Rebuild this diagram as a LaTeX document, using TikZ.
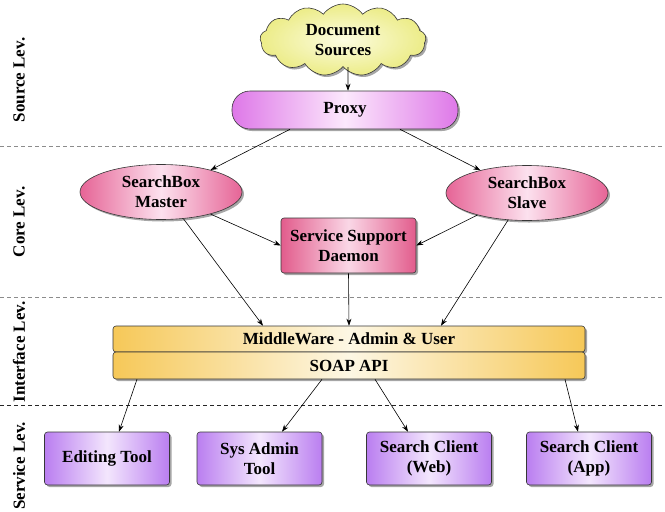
\documentclass[tikz,border=0pt]{standalone}
\usepackage{fontspec}
\setmainfont{Liberation Serif}
\usetikzlibrary{shapes.geometric,shapes.symbols,shadows,arrows.meta,calc}
\definecolor{bordc}{RGB}{55,55,55}
\definecolor{cloudout}{RGB}{236,236,135}
\definecolor{cloudin}{RGB}{252,252,225}
\definecolor{proxyedge}{RGB}{222,120,232}
\definecolor{proxymid}{RGB}{252,232,252}
\definecolor{pinkedge}{RGB}{230,100,150}
\definecolor{pinkmid}{RGB}{252,225,238}
\definecolor{daemonedge}{RGB}{226,92,140}
\definecolor{daemonmid}{RGB}{250,215,230}
\definecolor{baredge}{RGB}{246,200,88}
\definecolor{barmid}{RGB}{253,247,228}
\definecolor{purpedge}{RGB}{186,126,240}
\definecolor{purpmid}{RGB}{243,230,253}
\definecolor{dashgray}{RGB}{140,140,140}
\tikzset{
  txt/.style={font=\fontsize{17}{20}\selectfont\bfseries, align=center, text=black},
  shad/.style={drop shadow={shadow xshift=2pt,shadow yshift=-2pt,opacity=0.35,fill=black}},
  cloudbox/.style={cloud, cloud puffs=13, cloud puff arc=110, aspect=2.4, draw=bordc, line width=0.6pt,
     inner color=cloudin, outer color=cloudout, minimum width=166pt, minimum height=72pt, inner sep=0pt, shad, txt},
  proxybox/.style={rectangle, rounded corners=18pt, draw=bordc, line width=0.6pt,
     left color=proxyedge, right color=proxyedge, middle color=proxymid,
     minimum width=226pt, minimum height=38pt, inner sep=0pt, shad, txt},
  ellbox/.style={ellipse, draw=bordc, line width=0.6pt,
     left color=pinkedge, right color=pinkedge, middle color=pinkmid,
     minimum width=162pt, minimum height=55pt, inner sep=0pt, shad, txt},
  daemonbox/.style={rectangle, rounded corners=3pt, draw=bordc, line width=0.6pt,
     left color=daemonedge, right color=daemonedge, middle color=daemonmid,
     minimum width=135pt, minimum height=55pt, inner sep=0pt, shad, txt},
  barbox/.style={rectangle, rounded corners=3pt, draw=bordc, line width=0.6pt,
     left color=baredge, right color=baredge, middle color=barmid,
     minimum width=472pt, inner sep=0pt, shad, txt},
  toolbox/.style={rectangle, rounded corners=3pt, draw=bordc, line width=0.6pt,
     left color=purpedge, right color=purpedge, middle color=purpmid,
     minimum width=125pt, minimum height=53pt, inner sep=0pt, shad, txt},
  conn/.style={-{Stealth[length=7pt,width=5pt]}, line width=0.6pt, black},
  levline/.style={dashgray, dash pattern=on 4pt off 3pt, line width=0.7pt},
  levline2/.style={black!85, dash pattern=on 4pt off 3pt, line width=0.8pt},
  levlabel/.style={rotate=90, font=\fontsize{17}{20}\selectfont\bfseries, text=black}
}
\begin{document}
\begin{tikzpicture}[x=1pt,y=-1pt]
\useasboundingbox (0,0) rectangle (665,512);
\fill[white] (0,0) rectangle (665,512);

% level separators
\coordinate (l1a) at (0,146); \coordinate (l1b) at (665,146);
\coordinate (l2a) at (0,297); \coordinate (l2b) at (665,297);
\coordinate (l3a) at (0,405); \coordinate (l3b) at (665,405);
\draw[levline] (l1a) -- (l1b);
\draw[levline] (l2a) -- (l2b);
\draw[levline2] (l3a) -- (l3b);

% level labels
\node[levlabel] (labsrc) at (19,80) {Source Lev.};
\node[levlabel] (labcore) at (19,222) {Core Lev.};
\node[levlabel] (labint) at (19,352) {Interface Lev.};
\node[levlabel] (labsrv) at (19,466) {Service Lev.};

% nodes
\node[cloudbox] (docs) at (343,40) {Document\\Sources};
\node[proxybox] (proxy) at (345,110) {Proxy};
\node[ellbox] (master) at (161,192) {SearchBox\\Master};
\node[ellbox] (slave) at (527,193) {SearchBox\\Slave};
\node[daemonbox] (daemon) at (348.5,245.5) {Service Support\\Daemon};
\node[barbox, minimum height=26pt] (mw) at (349,339) {MiddleWare - Admin \& User};
\node[barbox, minimum height=27pt] (soap) at (349,365.5) {SOAP API};
\node[toolbox] (edit) at (107,458.5) {Editing Tool};
\node[toolbox] (sysadm) at (259.5,458.5) {Sys Admin\\Tool};
\node[toolbox] (web) at (429,458.5) {Search Client\\(Web)};
\node[toolbox] (app) at (589,458.5) {Search Client\\(App)};

% connectors
\draw[conn] ($(docs.south)+(5,0)$) -- ($(proxy.north)+(3,0)$);
\draw[conn] ($(proxy.south)+(-55,0)$) -- (master.24);
\draw[conn] ($(proxy.south)+(55,0)$) -- (slave.154);
\draw[conn] (master.-24) -- (daemon.west);
\draw[conn] (slave.-156) -- (daemon.east);
\draw[conn] (master.-50) -- ($(mw.north)+(-86,0)$);
\draw[conn] (slave.-125) -- ($(mw.north)+(92,0)$);
\draw[conn] (daemon.south) -- (mw.north);
\draw[conn] ($(soap.south)+(-212,0)$) -- ($(edit.north)+(12,0)$);
\draw[conn] ($(soap.south)+(-27,0)$) -- ($(sysadm.north)+(22.5,0)$);
\draw[conn] ($(soap.south)+(26,0)$) -- ($(web.north)+(-21,0)$);
\draw[conn] ($(soap.south)+(216,0)$) -- ($(app.north)+(-11,0)$);
\end{tikzpicture}
\end{document}
